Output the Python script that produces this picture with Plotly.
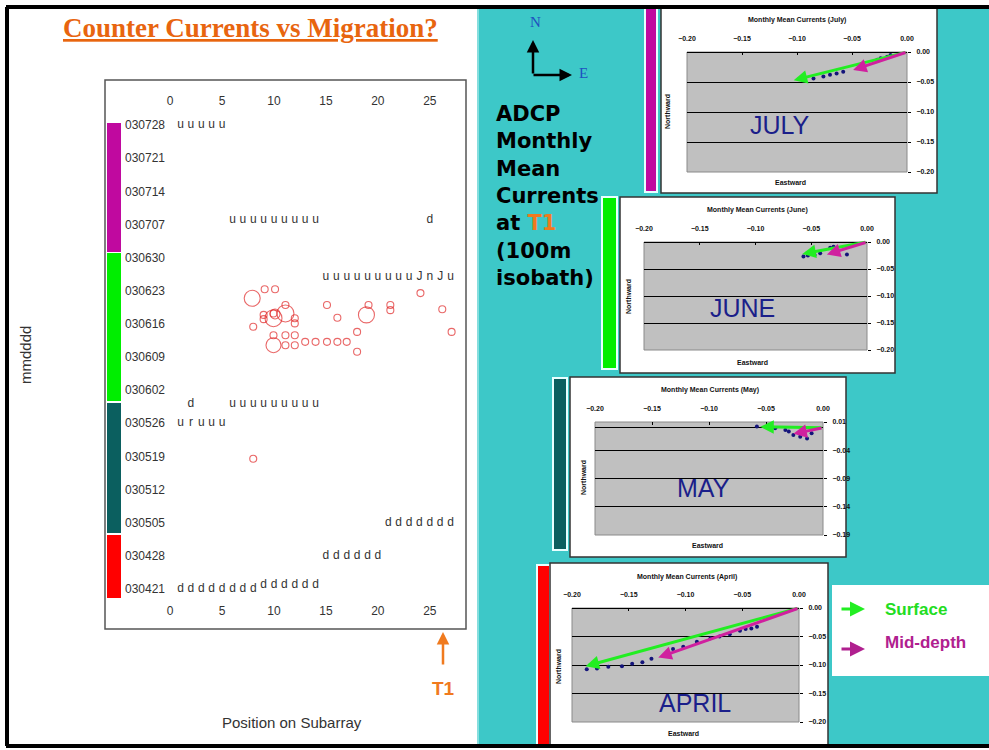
import plotly.graph_objects as go

W, H = 989, 750
def PX(x):
    return x / W
def PY(y):
    return 1 - y / H

# ---------------- left chart data ----------------
week_days = [0, 7, 14, 21, 28, 35, 42, 49, 56, 63, 70, 77, 84, 91, 98]
week_labels = ['030421', '030428', '030505', '030512', '030519', '030526', '030602',
               '030609', '030616', '030623', '030630', '030707', '030714', '030721', '030728']
pos_ticks = [0, 5, 10, 15, 20, 25]

mark_x = [1, 2, 3, 4, 5,
          6, 7, 8, 9, 10, 11, 12, 13, 14, 25,
          15, 16, 17, 18, 19, 20, 21, 22, 23, 24, 25, 26, 27,
          2, 6, 7, 8, 9, 10, 11, 12, 13, 14,
          1, 2, 3, 4, 5,
          21, 22, 23, 24, 25, 26, 27,
          15, 16, 17, 18, 19, 20,
          1, 2, 3, 4, 5, 6, 7, 8,
          9, 10, 11, 12, 13, 14]
mark_day = [98, 98, 98, 98, 98,
            78, 78, 78, 78, 78, 78, 78, 78, 78, 78,
            66, 66, 66, 66, 66, 66, 66, 66, 66, 66, 66, 66, 66,
            39, 39, 39, 39, 39, 39, 39, 39, 39, 39,
            35, 35, 35, 35, 35,
            14, 14, 14, 14, 14, 14, 14,
            7, 7, 7, 7, 7, 7,
            0, 0, 0, 0, 0, 0, 0, 0,
            0.8, 0.8, 0.8, 0.8, 0.8, 0.8]
mark_txt = list("uuuuu" + "uuuuuuuuud" + "uuuuuuuuuJnJu" + "duuuuuuuuu" + "uruuu"
                + "ddddddd" + "dddddd" + "dddddddd" + "dddddd")

circ_x = [7.9, 9.1, 10.1, 11.1, 11.1, 9.0, 9.0, 9.95, 9.95, 12.0, 12.0, 8.0, 15.1, 16.1,
          18.9, 19.1, 21.2, 21.2, 24.1, 26.2, 27.1, 18.0, 9.95, 11.1, 12.0, 9.95, 11.1,
          12.0, 13.0, 14.0, 15.1, 16.1, 17.0, 18.0, 8.0, 10.1]
circ_day = [61.4, 63.3, 63.3, 60.0, 58.2, 57.9, 57.0, 58.2, 57.2, 57.2, 56.1, 55.4, 60.0, 57.3,
            57.9, 60.0, 60.0, 58.9, 62.5, 59.1, 54.3, 54.3, 53.6, 53.6, 53.6, 51.5, 51.5,
            51.5, 52.2, 52.2, 52.2, 52.2, 52.2, 50.1, 27.5, 58.1]
circ_size = [16, 7, 7, 7, 17, 7, 7, 7, 17, 7, 7, 7, 7, 7,
             16, 7, 7, 7, 7, 7, 7, 7, 7, 7, 7, 15, 7,
             7, 7, 7, 7, 7, 7, 7, 7, 10]

# ---------------- right panels data (Eastward / Northward, m/s) ----------------
east_ticks = [-0.20, -0.15, -0.10, -0.05, 0.00]
north_ticks = [0.00, -0.05, -0.10, -0.15, -0.20]
north_ticks_may = [0.01, -0.04, -0.09, -0.14, -0.19]

july_e = [-0.015, -0.018, -0.024, -0.027, -0.043, -0.058, -0.064, -0.070, -0.076, -0.085, -0.094]
july_n = [-0.005, -0.008, -0.0105, -0.013, -0.0245, -0.033, -0.036, -0.038, -0.041, -0.044, -0.047]
july_surface = [-0.103, -0.047]
july_mid = [-0.049, -0.030]

june_e = [-0.033, -0.030, -0.018, -0.057, -0.053, -0.047, -0.042]
june_n = [-0.0105, -0.0087, -0.023, -0.027, -0.025, -0.024, -0.021]
june_surface = [-0.058, -0.022]
june_mid = [-0.036, -0.023]

may_e = [-0.058, -0.042, -0.033, -0.030, -0.026, -0.020, -0.014, -0.017, -0.010]
may_n = [0.002, -0.001, -0.004, -0.007, -0.013, -0.016, -0.019, -0.010, -0.010]
may_surface = [-0.055, 0.0015]
may_mid = [-0.026, -0.011]

april_e = [-0.187, -0.178, -0.168, -0.156, -0.147, -0.138, -0.130, -0.111, -0.102, -0.090,
           -0.078, -0.070, -0.061, -0.052, -0.047, -0.042, -0.037]
april_n = [-0.1076, -0.106, -0.103, -0.102, -0.098, -0.095, -0.089, -0.072, -0.068, -0.059,
           -0.053, -0.050, -0.046, -0.040, -0.037, -0.036, -0.033]
april_surface = [-0.188, -0.102]
april_mid = [-0.124, -0.087]

# ---------------- colours ----------------
TEAL = '#3DC8C8'
MAG = '#C0099F'
GRN = '#00EE00'
DTEAL = '#0B5F5F'
RED = '#FF0000'
ORANGE = '#F07A1E'
NAVY = '#1B1F8A'
SURF = '#22EE22'
MIDC = '#D0209F'

fig = go.Figure()
shapes = []
ann = []


def label(text, x, y, font, **kw):
    d = dict(text=text, x=PX(x), y=PY(y), xref='paper', yref='paper', showarrow=False,
             xanchor='center', yanchor='middle', font=font)
    d.update(kw)
    ann.append(d)


# background pieces
shapes.append(dict(type='rect', xref='paper', yref='paper', x0=PX(477), x1=1, y0=PY(746), y1=PY(8),
                   fillcolor=TEAL, line=dict(width=0), layer='below'))
shapes.append(dict(type='line', xref='paper', yref='paper', x0=PX(478), x1=PX(478), y0=PY(746), y1=PY(8),
                   line=dict(color='#9EE6E6', width=1.5), layer='below'))
shapes.append(dict(type='line', xref='paper', yref='paper', x0=PX(6), x1=1, y0=PY(7), y1=PY(7),
                   line=dict(color='black', width=4), layer='above'))
shapes.append(dict(type='line', xref='paper', yref='paper', x0=PX(6), x1=1, y0=PY(746), y1=PY(746),
                   line=dict(color='black', width=4), layer='above'))
shapes.append(dict(type='line', xref='paper', yref='paper', x0=PX(7), x1=PX(7), y0=PY(746), y1=PY(7),
                   line=dict(color='black', width=4), layer='above'))
# left chart box
shapes.append(dict(type='rect', xref='paper', yref='paper', x0=PX(105), x1=PX(466), y0=PY(629), y1=PY(80),
                   line=dict(color='#555555', width=1.5), layer='below'))
# month colour bars on left chart
for y0, y1, c in [(123, 252, MAG), (253, 401, GRN), (403, 533, DTEAL), (535, 598, RED)]:
    shapes.append(dict(type='rect', xref='paper', yref='paper', x0=PX(107), x1=PX(121), y0=PY(y1), y1=PY(y0),
                       fillcolor=c, line=dict(width=0), layer='below'))

# ---------------- left chart traces ----------------
fig.add_trace(go.Scatter(x=mark_x, y=mark_day, mode='text', text=mark_txt,
                         textfont=dict(family='Arial', size=12, color='#333333'),
                         xaxis='x', yaxis='y', hoverinfo='skip', cliponaxis=False))
fig.add_trace(go.Scatter(x=circ_x, y=circ_day, mode='markers',
                         marker=dict(symbol='circle-open', size=circ_size, color='#E02828',
                                     line=dict(width=1.1, color='#E02828')),
                         xaxis='x', yaxis='y', hoverinfo='skip'))

xr = [-0.4, 28.1]
layout_axes = dict(
    xaxis=dict(domain=[PX(166), PX(462)], range=xr, tickvals=pos_ticks, showgrid=False, zeroline=False,
               showline=False, ticks='', tickfont=dict(family='Arial', size=12, color='#333333'),
               anchor='y', side='bottom', automargin=False),
    xaxis2=dict(domain=[PX(166), PX(462)], range=xr, tickvals=pos_ticks, showgrid=False, zeroline=False,
                showline=False, ticks='', tickfont=dict(family='Arial', size=12, color='#333333'),
                anchor='y', side='top', overlaying='x', matches='x', automargin=False),
    yaxis=dict(domain=[PY(602), PY(108)], range=[-2.75, 101.6], tickvals=week_days, ticktext=week_labels,
               showgrid=False, zeroline=False, showline=False, ticks='', anchor='x', automargin=False,
               tickfont=dict(family='Arial', size=12, color='#333333')),
)
fig.add_trace(go.Scatter(x=[None], y=[None], xaxis='x2', yaxis='y', showlegend=False))

label('Counter Currents vs Migration?', 250, 28,
      dict(family='Liberation Serif', size=27, color='#E8650F', weight='bold', lineposition='under'))
label('mmdddd', 25, 355, dict(family='Arial', size=15, color='#333333'), textangle=-90)
label('Position on Subarray', 292, 722, dict(family='Arial', size=15, color='#333333'))
# T1 marker
ann.append(dict(text='', x=PX(443), y=PY(632), xref='paper', yref='paper', showarrow=True,
                ax=0, ay=34, arrowhead=2, arrowsize=1, arrowwidth=2.5, arrowcolor=ORANGE))
label('<b>T1</b>', 443, 688, dict(family='Arial', size=19, color=ORANGE))

# compass
ann.append(dict(text='', x=PX(533), y=PY(40), xref='paper', yref='paper', showarrow=True,
                ax=0, ay=35, arrowhead=2, arrowsize=1, arrowwidth=2.5, arrowcolor='black'))
ann.append(dict(text='', x=PX(572), y=PY(75), xref='paper', yref='paper', showarrow=True,
                ax=-40, ay=0, arrowhead=2, arrowsize=1, arrowwidth=2.5, arrowcolor='black'))
label('N', 535, 22, dict(family='Liberation Serif', size=15, color='#2050C0'))
label('E', 583, 73, dict(family='Liberation Serif', size=15, color='#2050C0'))
ann.append(dict(text="<b>ADCP<br>Monthly<br>Mean<br>Currents<br>at <span style='color:%s'>T1</span><br>(100m<br>isobath)</b>" % ORANGE,
                x=PX(494), y=PY(100), xref='paper', yref='paper', xanchor='left', yanchor='top',
                align='left', showarrow=False,
                font=dict(family='DejaVu Sans', size=21, color='black')))

# ---------------- right panels ----------------
panels = [
    dict(month='JULY', title='Monthly Mean Currents (July)', px=(687, 907), py=(52, 172),
         yr=[-0.20, 0.0], yt=north_ticks, card=(661, 8, 937, 193), bar=(645, 8, 657, 192), barc=MAG,
         tpos=(797, 20), epos=(790, 182), npos=(668, 112), mpos=(780, 125),
         e=july_e, n=july_n, surf=july_surface, mid=july_mid),
    dict(month='JUNE', title='Monthly Mean Currents (June)', px=(644, 867), py=(242, 350),
         yr=[-0.20, 0.0], yt=north_ticks, card=(620, 197, 895, 373), bar=(602, 197, 617, 369), barc=GRN,
         tpos=(757, 210), epos=(752, 362), npos=(628, 297), mpos=(742, 308),
         e=june_e, n=june_n, surf=june_surface, mid=june_mid),
    dict(month='MAY', title='Monthly Mean Currents (May)', px=(595, 823), py=(422, 535),
         yr=[-0.19, 0.01], yt=north_ticks_may, card=(570, 377, 846, 557), bar=(553, 378, 567, 550), barc=DTEAL,
         tpos=(710, 390), epos=(707, 545), npos=(583, 478), mpos=(703, 488),
         e=may_e, n=may_n, surf=may_surface, mid=may_mid),
    dict(month='APRIL', title='Monthly Mean Currents (April)', px=(572, 799), py=(608, 722),
         yr=[-0.20, 0.0], yt=north_ticks, card=(550, 563, 828, 746), bar=(537, 565, 550, 746), barc=RED,
         tpos=(687, 577), epos=(683, 733), npos=(558, 667), mpos=(695, 703),
         e=april_e, n=april_n, surf=april_surface, mid=april_mid),
]

small = dict(family='Arial', size=7, color='#111111', weight='bold')
for i, p in enumerate(panels):
    k = i + 3
    xa, ya = 'x%d' % k, 'y%d' % k
    cx0, cy0, cx1, cy1 = p['card']
    bx0, by0, bx1, by1 = p['bar']
    shapes.append(dict(type='rect', xref='paper', yref='paper', x0=PX(bx0), x1=PX(bx1), y0=PY(by1), y1=PY(by0),
                       fillcolor=p['barc'], line=dict(color='#E8FFFF', width=2), layer='below'))
    shapes.append(dict(type='rect', xref='paper', yref='paper', x0=PX(cx0), x1=PX(cx1), y0=PY(cy1), y1=PY(cy0),
                       fillcolor='white', line=dict(color='#333333', width=1.5), layer='below'))
    shapes.append(dict(type='rect', xref=xa + ' domain', yref=ya + ' domain', x0=0, x1=1, y0=0, y1=1,
                       fillcolor='#C0C0C0', line=dict(color='#8A8A8A', width=1), layer='below'))
    layout_axes['xaxis%d' % k] = dict(domain=[PX(p['px'][0]), PX(p['px'][1])], range=[-0.20, 0.0],
                                      tickvals=east_ticks, tickformat='.2f', side='top', anchor=ya,
                                      ticks='inside', ticklen=3, tickcolor='black', showgrid=False,
                                      zeroline=False, showline=False, tickfont=small, ticklabelstandoff=9,
                                      automargin=False)
    layout_axes['yaxis%d' % k] = dict(domain=[PY(p['py'][1]), PY(p['py'][0])], range=p['yr'],
                                      tickvals=p['yt'], tickformat='.2f', side='right', anchor=xa,
                                      ticks='outside', ticklen=3, tickcolor='black', showgrid=True,
                                      gridcolor='black', gridwidth=1.3, zeroline=True,
                                      zerolinecolor='black', zerolinewidth=1.3, showline=False,
                                      tickfont=small, ticklabelstandoff=4, automargin=False)
    fig.add_trace(go.Scatter(x=p['e'], y=p['n'], mode='markers', xaxis=xa, yaxis=ya,
                             marker=dict(size=4, color='#14147A', symbol='circle'), hoverinfo='skip'))
    for vec, col in [(p['surf'], SURF), (p['mid'], MIDC)]:
        ann.append(dict(text='', x=vec[0], y=vec[1], xref=xa, yref=ya, axref=xa, ayref=ya, ax=0.0, ay=0.0,
                        showarrow=True, arrowhead=2, arrowsize=0.9, arrowwidth=3, arrowcolor=col,
                        standoff=0, startstandoff=0))
    label(p['title'], p['tpos'][0], p['tpos'][1], small)
    label('Eastward', p['epos'][0], p['epos'][1], small)
    label('Northward', p['npos'][0], p['npos'][1], small, textangle=-90)
    label(p['month'], p['mpos'][0], p['mpos'][1], dict(family='Arial', size=25, color=NAVY))

# legend box
shapes.append(dict(type='rect', xref='paper', yref='paper', x0=PX(832), x1=1, y0=PY(676), y1=PY(585),
                   fillcolor='white', line=dict(width=0), layer='below'))
ann.append(dict(text='', x=PX(865), y=PY(609), xref='paper', yref='paper', showarrow=True, ax=-25, ay=0,
                arrowhead=2, arrowsize=1, arrowwidth=3, arrowcolor=SURF))
ann.append(dict(text='', x=PX(865), y=PY(649), xref='paper', yref='paper', showarrow=True, ax=-25, ay=0,
                arrowhead=2, arrowsize=1, arrowwidth=3, arrowcolor='#B0208F'))
label('<b>Surface</b>', 883, 609, dict(family='Arial', size=17, color='#22DD22'), xanchor='left')
label('<b>Mid-depth</b>', 883, 642, dict(family='Arial', size=17, color='#B0208F'), xanchor='left')

fig.update_layout(width=W, height=H, margin=dict(l=0, r=0, t=0, b=0, pad=0, autoexpand=False),
                  paper_bgcolor='white', plot_bgcolor='rgba(0,0,0,0)', showlegend=False,
                  shapes=shapes, annotations=ann, **layout_axes)

fig.write_html('out.html', config={'displayModeBar': False},
               post_script="var st=document.createElement('style');st.innerHTML='html,body{margin:0;padding:0;overflow:hidden;}';document.head.appendChild(st);")
